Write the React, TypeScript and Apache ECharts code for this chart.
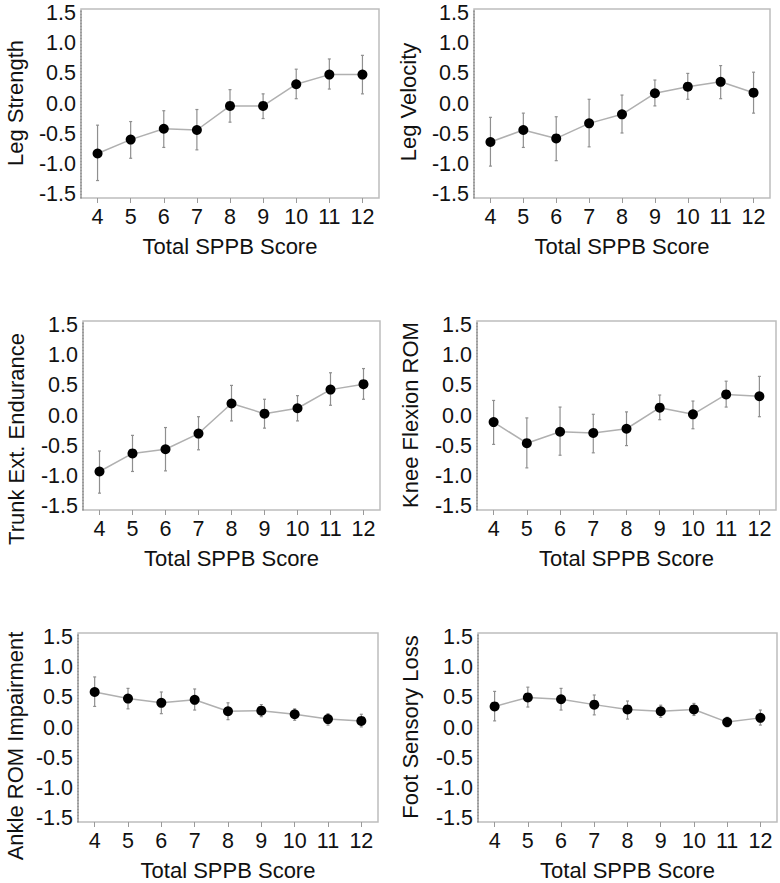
import React, { useEffect, useRef } from "react";
import * as echarts from "echarts";

const scores = [4, 5, 6, 7, 8, 9, 10, 11, 12];
const yTicks = [-1.5, -1.0, -0.5, 0.0, 0.5, 1.0, 1.5];
const xTitle = "Total SPPB Score";

const legStrengthMean = [-0.83, -0.6, -0.42, -0.44, -0.04, -0.04, 0.32, 0.48, 0.48];
const legStrengthHi = [-0.36, -0.3, -0.12, -0.1, 0.23, 0.16, 0.57, 0.74, 0.8];
const legStrengthLo = [-1.28, -0.91, -0.73, -0.77, -0.31, -0.25, 0.08, 0.24, 0.16];

const legVelocityMean = [-0.64, -0.44, -0.58, -0.33, -0.18, 0.17, 0.28, 0.36, 0.18];
const legVelocityHi = [-0.23, -0.16, -0.22, 0.07, 0.14, 0.39, 0.5, 0.63, 0.52];
const legVelocityLo = [-1.04, -0.73, -0.95, -0.72, -0.49, -0.04, 0.07, 0.08, -0.16];

const trunkMean = [-0.93, -0.63, -0.56, -0.3, 0.2, 0.03, 0.12, 0.43, 0.52];
const trunkHi = [-0.59, -0.33, -0.2, -0.02, 0.5, 0.27, 0.33, 0.71, 0.78];
const trunkLo = [-1.29, -0.93, -0.92, -0.57, -0.09, -0.21, -0.09, 0.17, 0.27];

const kneeMean = [-0.11, -0.46, -0.27, -0.29, -0.22, 0.13, 0.02, 0.35, 0.32];
const kneeHi = [0.25, -0.04, 0.14, 0.02, 0.06, 0.34, 0.24, 0.57, 0.65];
const kneeLo = [-0.48, -0.87, -0.66, -0.62, -0.5, -0.07, -0.22, 0.14, -0.02];

const ankleMean = [0.59, 0.48, 0.41, 0.46, 0.27, 0.28, 0.22, 0.14, 0.11];
const ankleHi = [0.84, 0.65, 0.59, 0.64, 0.41, 0.38, 0.31, 0.23, 0.22];
const ankleLo = [0.35, 0.31, 0.23, 0.29, 0.13, 0.18, 0.12, 0.04, 0.01];

const footMean = [0.35, 0.5, 0.47, 0.38, 0.3, 0.27, 0.3, 0.09, 0.16];
const footHi = [0.6, 0.67, 0.65, 0.54, 0.44, 0.37, 0.4, 0.17, 0.29];
const footLo = [0.11, 0.34, 0.29, 0.21, 0.14, 0.17, 0.2, 0.01, 0.04];

// box: [left, top, width, height]; titlePos: [centerX, centerY] of the rotated y title
const panels = [
  { title: "Leg Strength", mean: legStrengthMean, hi: legStrengthHi, lo: legStrengthLo, box: [81, 9, 298, 189], titlePos: [15, 103] },
  { title: "Leg Velocity", mean: legVelocityMean, hi: legVelocityHi, lo: legVelocityLo, box: [474, 9, 296, 189], titlePos: [408, 102] },
  { title: "Trunk Ext. Endurance", mean: trunkMean, hi: trunkHi, lo: trunkLo, box: [83, 321, 297, 189], titlePos: [16, 439] },
  { title: "Knee Flexion ROM", mean: kneeMean, hi: kneeHi, lo: kneeLo, box: [477, 321, 299, 189], titlePos: [410, 415] },
  { title: "Ankle ROM Impairment", mean: ankleMean, hi: ankleHi, lo: ankleLo, box: [78, 633, 300, 189], titlePos: [15, 746] },
  { title: "Foot Sensory Loss", mean: footMean, hi: footHi, lo: footLo, box: [478, 633, 299, 189], titlePos: [410, 727] },
];

const FONT = "'Liberation Sans', Arial, Helvetica, sans-serif";

export default function App() {
  const ref = useRef<HTMLDivElement>(null);
  useEffect(() => {
    if (!ref.current) return;
    const chart = echarts.init(ref.current, null, { renderer: "svg" });
    const grid: any[] = [];
    const xAxis: any[] = [];
    const yAxis: any[] = [];
    const series: any[] = [];
    const graphic: any[] = [];
    panels.forEach((p, i) => {
      const [left, top, width, height] = p.box;
      grid.push({
        left,
        top,
        width,
        height,
        show: true,
        borderColor: "#bdbdbd",
        borderWidth: 1.5,
        backgroundColor: "transparent",
      });
      xAxis.push({
        gridIndex: i,
        type: "value",
        min: 3.5,
        max: 12.5,
        splitLine: { show: false },
        axisLine: { show: false, onZero: false },
        axisTick: { show: true, customValues: scores, length: 5, lineStyle: { color: "#9a9a9a", width: 1 } },
        axisLabel: { customValues: scores, fontSize: 21.5, color: "#111", margin: 8, fontFamily: FONT },
        name: xTitle,
        nameLocation: "middle",
        nameGap: 37,
        nameTextStyle: { fontSize: 22, color: "#111", fontFamily: FONT },
      });
      yAxis.push({
        gridIndex: i,
        type: "value",
        min: -1.57,
        max: 1.57,
        splitLine: { show: false },
        axisLine: { show: true, onZero: false, lineStyle: { color: "#8a8a8a", width: 1.5, type: [1, 2] } },
        axisTick: { show: false },
        axisLabel: {
          customValues: yTicks,
          fontSize: 21.5,
          color: "#111",
          margin: 5,
          fontFamily: FONT,
          formatter: (v: number) => v.toFixed(1),
        },
      });
      graphic.push({
        type: "text",
        x: p.titlePos[0],
        y: p.titlePos[1],
        rotation: Math.PI / 2,
        style: {
          text: p.title,
          fontSize: 22,
          fontFamily: FONT,
          fill: "#111",
          align: "center",
          verticalAlign: "middle",
        },
      });
      series.push({
        type: "custom",
        xAxisIndex: i,
        yAxisIndex: i,
        data: scores.map((s, k) => [s, p.lo[k], p.hi[k]]),
        encode: { x: 0, y: [1, 2] },
        z: 2,
        renderItem: (_params: any, api: any) => {
          const x = api.value(0);
          const a = api.coord([x, api.value(1)]);
          const b = api.coord([x, api.value(2)]);
          const c = 1.5;
          const st = { stroke: "#8f8f8f", lineWidth: 1.2 };
          return {
            type: "group",
            children: [
              { type: "line", shape: { x1: a[0], y1: a[1], x2: b[0], y2: b[1] }, style: st },
              { type: "line", shape: { x1: a[0] - c, y1: a[1], x2: a[0] + c, y2: a[1] }, style: st },
              { type: "line", shape: { x1: b[0] - c, y1: b[1], x2: b[0] + c, y2: b[1] }, style: st },
            ],
          };
        },
      });
      series.push({
        type: "line",
        xAxisIndex: i,
        yAxisIndex: i,
        data: scores.map((s, k) => [s, p.mean[k]]),
        symbol: "circle",
        symbolSize: 10,
        z: 3,
        itemStyle: { color: "#000" },
        lineStyle: { color: "#b0b0b0", width: 1.5 },
      });
    });
    chart.setOption({
      animation: false,
      backgroundColor: "#fff",
      textStyle: { fontFamily: FONT },
      grid,
      xAxis,
      yAxis,
      series,
      graphic,
    });
    return () => chart.dispose();
  }, []);
  return (
    <div
      ref={ref}
      style={{ position: "fixed", left: 0, top: 0, width: 780, height: 883, background: "#fff" }}
    />
  );
}
